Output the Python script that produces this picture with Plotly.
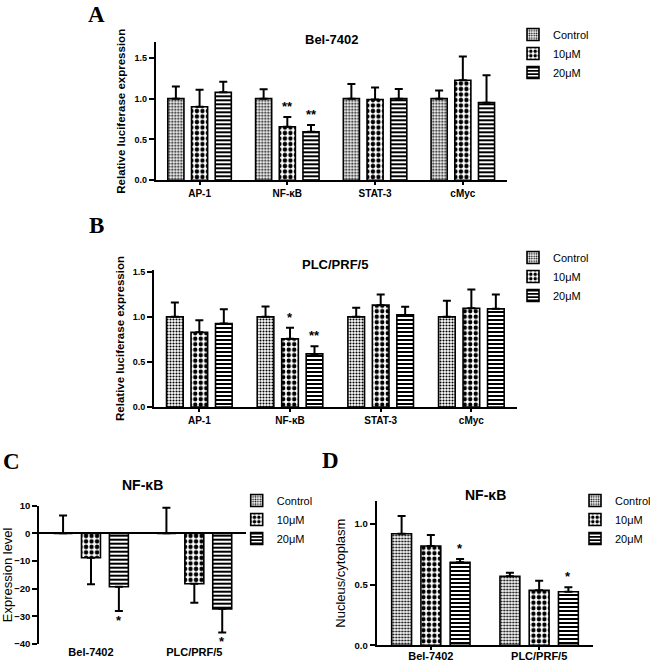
import plotly.graph_objects as go

# ---------------- data ----------------
treatments = ["Control", "10μM", "20μM"]

luc_genes = ["AP-1", "NF-κB", "STAT-3", "cMyc"]

# Panel A : Bel-7402 luciferase
a_control = [1.00, 1.00, 1.00, 1.00]
a_control_err = [0.15, 0.115, 0.18, 0.10]
a_10 = [0.90, 0.656, 0.99, 1.225]
a_10_err = [0.21, 0.12, 0.145, 0.29]
a_20 = [1.078, 0.594, 1.00, 0.951]
a_20_err = [0.13, 0.082, 0.119, 0.336]

# Panel B : PLC/PRF/5 luciferase
b_control = [1.00, 1.00, 1.00, 1.00]
b_control_err = [0.159, 0.115, 0.10, 0.178]
b_10 = [0.83, 0.756, 1.13, 1.096]
b_10_err = [0.133, 0.122, 0.118, 0.208]
b_20 = [0.926, 0.589, 1.022, 1.089]
b_20_err = [0.159, 0.085, 0.089, 0.159]

cell_lines = ["Bel-7402", "PLC/PRF/5"]

# Panel C : NF-κB expression level
c_control = [0.0, 0.0]
c_control_err = [6.5, 9.3]
c_10 = [-8.8, -18.2]
c_10_err = [9.6, 6.9]
c_20 = [-19.3, -27.3]
c_20_err = [8.8, 8.5]

# Panel D : NF-κB nucleus/cytoplasm
d_control = [0.920, 0.569]
d_control_err = [0.146, 0.030]
d_10 = [0.819, 0.453]
d_10_err = [0.090, 0.080]
d_20 = [0.684, 0.442]
d_20_err = [0.028, 0.036]

# significance marks: (category index, treatment index, text)
a_sig = [(1, 1, "**"), (1, 2, "**")]
b_sig = [(1, 1, "*"), (1, 2, "**")]
c_sig = [(0, 2, "*"), (1, 2, "*")]
d_sig = [(0, 2, "*"), (1, 2, "*")]

# ---------------- styling ----------------
W, H = 650, 661
SANS = "Liberation Sans"
SERIF = "Liberation Serif"
BARGAP = 0.19
SLOT = (1 - BARGAP) / 3

patterns = [
    dict(shape=".", size=3, solidity=0.4),
    dict(shape=".", size=5.5, solidity=0.5),
    dict(shape="-", size=4, solidity=0.5),
]


def px(x):
    return x / W


def py(y):
    return 1 - y / H


fig = go.Figure()

panels = [
    ("A", luc_genes, [a_control, a_10, a_20], [a_control_err, a_10_err, a_20_err], "", "legend"),
    ("B", luc_genes, [b_control, b_10, b_20], [b_control_err, b_10_err, b_20_err], "2", "legend2"),
    ("C", cell_lines, [c_control, c_10, c_20], [c_control_err, c_10_err, c_20_err], "3", "legend3"),
    ("D", cell_lines, [d_control, d_10, d_20], [d_control_err, d_10_err, d_20_err], "4", "legend4"),
]

for name, cats, vals, errs, suf, leg in panels:
    for i, t in enumerate(treatments):
        v = vals[i]
        e = errs[i]
        plus = [ee if vv >= 0 else 0 for vv, ee in zip(v, e)]
        minus = [0 if vv >= 0 else ee for vv, ee in zip(v, e)]
        fig.add_trace(go.Bar(
            x=cats, y=v, name=t,
            xaxis="x" + suf, yaxis="y" + suf, legend=leg,
            marker=dict(color="white",
                        line=dict(color="black", width=1.6),
                        pattern=dict(fgcolor="black", bgcolor="white",
                                     fillmode="replace", **patterns[i])),
            error_y=dict(type="data", symmetric=False, array=plus, arrayminus=minus,
                         color="black", thickness=2, width=4),
            showlegend=True,
        ))

tickfont = dict(family=SANS, size=9, color="black", weight="bold")
xtickfont = dict(family=SANS, size=10, color="black", weight="bold")
xtickfont2 = dict(family=SANS, size=11, color="black", weight="bold")

common_y = dict(showline=True, linecolor="black", linewidth=2, ticks="outside",
                ticklen=5, tickwidth=2, tickcolor="black", showgrid=False,
                tickfont=tickfont)
common_x = dict(showline=True, linecolor="black", linewidth=2, ticks="outside",
                ticklen=3, tickwidth=2, tickcolor="black", showgrid=False,
                type="category")

fig.update_layout(
    width=W, height=H,
    margin=dict(l=0, r=0, t=0, b=0, autoexpand=False),
    paper_bgcolor="white", plot_bgcolor="white",
    barmode="group", bargap=BARGAP, bargroupgap=0.32,
    font=dict(family=SANS, color="black"),
    # Panel A
    xaxis=dict(common_x, domain=[px(155.7), px(506.7)], anchor="y",
               range=[-0.5, 3.5], tickfont=xtickfont),
    yaxis=dict(common_y, domain=[py(180.3), py(42.3)], anchor="x",
               range=[0, 1.69], dtick=0.5, tickformat=".1f", zeroline=False,
               title=dict(text="Relative luciferase expression", standoff=6,
                          font=dict(family=SANS, size=11.5, weight="bold"))),
    # Panel B
    xaxis2=dict(common_x, domain=[px(154), px(516.7)], anchor="y2",
                range=[-0.5, 3.5], tickfont=xtickfont),
    yaxis2=dict(common_y, domain=[py(407), py(270)], anchor="x2",
                range=[0, 1.52], dtick=0.5, tickformat=".1f", zeroline=False,
                title=dict(text="Relative luciferase expression", standoff=6,
                           font=dict(family=SANS, size=11.5, weight="bold"))),
    # Panel C
    xaxis3=dict(domain=[px(39.3), px(246)], anchor="y3", type="category",
                range=[-0.5, 1.5], showline=False, ticks="", showgrid=False,
                tickfont=xtickfont2),
    yaxis3=dict(common_y, domain=[py(644), py(505.7)], anchor="x3",
                range=[-40, 10], dtick=10, zeroline=True, zerolinecolor="black",
                zerolinewidth=2, tickfont=dict(tickfont, size=9.5),
                title=dict(text="Expression level", standoff=6,
                           font=dict(family=SANS, size=13))),
    # Panel D
    xaxis4=dict(common_x, domain=[px(376.7), px(593.3)], anchor="y4",
                range=[-0.5, 1.5], tickfont=xtickfont2, ticklabelstandoff=-4),
    yaxis4=dict(common_y, domain=[py(645.3), py(501)], anchor="x4",
                range=[0, 1.19], dtick=0.5, tickformat=".1f", zeroline=False,
                tickfont=dict(tickfont, size=9.5),
                title=dict(text="Nucleus/cytoplasm", standoff=6,
                           font=dict(family=SANS, size=13))),
)

leg_common = dict(bgcolor="rgba(0,0,0,0)", borderwidth=0, font=dict(family=SANS, size=11),
                  xanchor="left", yanchor="top", tracegroupgap=0, itemclick=False)
fig.update_layout(
    legend=dict(leg_common, x=px(513), y=py(20)),
    legend2=dict(leg_common, x=px(513), y=py(243)),
    legend3=dict(leg_common, x=px(236.7), y=py(486)),
    legend4=dict(leg_common, x=px(575), y=py(486)),
)

annotations = []
# panel letters
for letter, (lx, ly) in {"A": (96.3, 14.2), "B": (96, 225), "C": (11, 461), "D": (330, 460.7)}.items():
    annotations.append(dict(text=letter, x=px(lx), y=py(ly), xref="paper", yref="paper",
                            showarrow=False, xanchor="center", yanchor="middle",
                            font=dict(family=SERIF, size=23, weight="bold", color="black")))
# panel titles
for ttl, (tx, ty), size in [("Bel-7402", (331, 39), 13), ("PLC/PRF/5", (335.4, 265), 13),
                            ("NF-κB", (142.7, 485), 14), ("NF-κB", (485, 495), 14)]:
    annotations.append(dict(text=ttl, x=px(tx), y=py(ty), xref="paper", yref="paper",
                            showarrow=False, xanchor="center", yanchor="middle",
                            font=dict(family=SANS, size=size, weight="bold", color="black")))

# significance marks
for sigs, vals, errs, suf in [(a_sig, [a_control, a_10, a_20], [a_control_err, a_10_err, a_20_err], ""),
                              (b_sig, [b_control, b_10, b_20], [b_control_err, b_10_err, b_20_err], "2"),
                              (c_sig, [c_control, c_10, c_20], [c_control_err, c_10_err, c_20_err], "3"),
                              (d_sig, [d_control, d_10, d_20], [d_control_err, d_10_err, d_20_err], "4")]:
    for ci, ti, txt in sigs:
        v = vals[ti][ci]
        e = errs[ti][ci]
        xpos = ci + (ti - 1) * SLOT
        if v >= 0:
            annotations.append(dict(text=txt, x=xpos, y=v + e, xref="x" + suf, yref="y" + suf,
                                    showarrow=False, xanchor="center", yanchor="bottom", yshift=1,
                                    font=dict(family=SANS, size=13, weight="bold", color="black")))
        else:
            annotations.append(dict(text=txt, x=xpos, y=v - e, xref="x" + suf, yref="y" + suf,
                                    showarrow=False, xanchor="center", yanchor="top", yshift=0,
                                    font=dict(family=SANS, size=13, weight="bold", color="black")))

fig.update_layout(annotations=annotations)

fig.write_html("out.html",
               config={"displayModeBar": False},
               post_script="document.body.style.margin='0px';document.body.style.padding='0px';")
